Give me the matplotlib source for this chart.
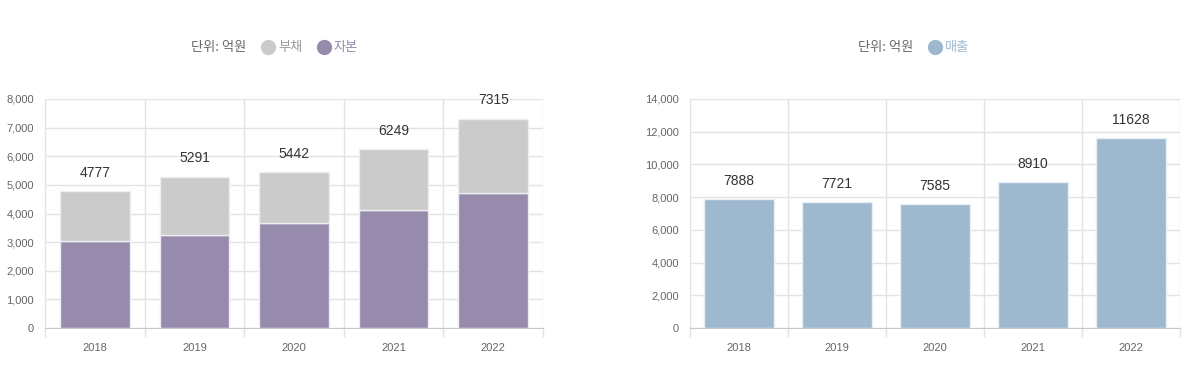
import matplotlib.pyplot as plt
import numpy as np
from matplotlib.lines import Line2D

plt.rcParams['font.family'] = ['Liberation Sans', 'Noto Sans CJK KR', 'DejaVu Sans']

# data (억원)
years = ['2018', '2019', '2020', '2021', '2022']
total = [4777, 5291, 5442, 6249, 7315]          # 부채 + 자본
equity = [3050, 3260, 3680, 4120, 4730]         # 자본
debt = [t - e for t, e in zip(total, equity)]   # 부채
sales = [7888, 7721, 7585, 8910, 11628]         # 매출

c_debt = '#cbcbcb'
c_equity = '#968aad'
c_sales = '#9eb8d0'
grid_c = '#e3e3e3'
tick_c = '#666666'

fig = plt.figure(figsize=(11.9, 3.82), dpi=100)
ax1 = fig.add_axes([45 / 1190, 54 / 382, 498 / 1190, 229 / 382])
ax2 = fig.add_axes([690 / 1190, 54 / 382, 490 / 1190, 229 / 382])


def style_axis(ax, ymax, step):
    x = np.arange(len(years))
    ax.set_xlim(-0.5, len(years) - 0.5)
    ax.set_ylim(0, ymax)
    ax.set_xticks(x)
    ax.set_xticklabels(years)
    ax.set_xticks(np.arange(len(years) + 1) - 0.5, minor=True)
    ax.set_yticks(np.arange(0, ymax + 1, step))
    ax.set_yticklabels([f'{v:,}' for v in range(0, ymax + 1, step)])
    ax.tick_params(axis='x', which='major', length=0, pad=10.5, labelsize=8, labelcolor=tick_c)
    ax.tick_params(axis='x', which='minor', length=6.5, color=grid_c, width=1)
    ax.tick_params(axis='y', length=0, pad=8, labelsize=8, labelcolor=tick_c)
    ax.grid(True, which='minor', axis='x', color=grid_c, lw=1)
    ax.grid(True, which='major', axis='y', color=grid_c, lw=1)
    ax.set_axisbelow(True)
    for s in ['top', 'right']:
        ax.spines[s].set_visible(False)
    ax.spines['left'].set_color(grid_c)
    ax.spines['bottom'].set_color('#c8c8c8')


x = np.arange(len(years))

# left: stacked 자본 + 부채
ax1.bar(x, equity, width=0.7, color=c_equity, edgecolor='#eeeaf4', lw=1, zorder=2)
ax1.bar(x, debt, bottom=equity, width=0.7, color=c_debt, edgecolor='#eeeeee', lw=1, zorder=2)
for xi, t in zip(x, total):
    ax1.annotate(str(t), (xi, t), xytext=(0, 8), textcoords='offset points',
                 ha='center', va='bottom', fontsize=10, color='#333333')
style_axis(ax1, 8000, 1000)

# right: 매출
ax2.bar(x, sales, width=0.72, color=c_sales, edgecolor='#e6eef6', lw=1, zorder=2)
for xi, v in zip(x, sales):
    ax2.annotate(str(v), (xi, v), xytext=(0, 8), textcoords='offset points',
                 ha='center', va='bottom', fontsize=10, color='#333333')
style_axis(ax2, 14000, 2000)


# legends
def make_legend(ax, items, anchor_x):
    handles = [Line2D([], [], ls='none', marker='o', ms=0)]
    labels = ['단위: 억원']
    for lab, col in items:
        handles.append(Line2D([], [], ls='none', marker='o', ms=10, color=col))
        labels.append(lab)
    leg = ax.legend(handles, labels, ncol=len(labels), loc='center',
                    bbox_to_anchor=(anchor_x, 1 - 48 / 382), bbox_transform=fig.transFigure,
                    frameon=False, handlelength=0.8, handletextpad=0.35, columnspacing=1.25,
                    prop={'family': ['Noto Sans CJK KR'], 'size': 9.5})
    texts = leg.get_texts()
    texts[0].set_color('#666666')
    for t, (lab, col) in zip(texts[1:], items):
        t.set_color(col if col != c_debt else '#999999')
    return leg


make_legend(ax1, [('부채', c_debt), ('자본', c_equity)], 267 / 1190)
make_legend(ax2, [('매출', c_sales)], 906 / 1190)

fig.savefig('out.png', dpi=100, facecolor='white')
